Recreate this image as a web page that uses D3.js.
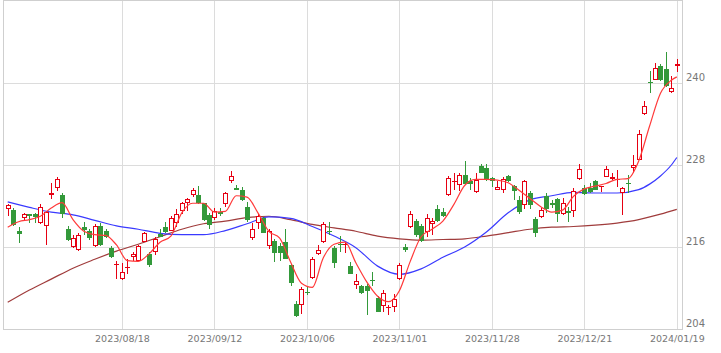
<!DOCTYPE html>
<html><head><meta charset="utf-8">
<script src="https://cdn.jsdelivr.net/npm/d3@7"></script>
<style>body{margin:0;background:#fff;overflow:hidden}</style>
</head><body><svg id="c" width="721" height="353"></svg>
<script>
// trading days
const dates = [
"2023/07/19","2023/07/20","2023/07/21","2023/07/24","2023/07/25","2023/07/26","2023/07/27","2023/07/28","2023/07/31",
"2023/08/01","2023/08/02","2023/08/03","2023/08/04","2023/08/07","2023/08/08","2023/08/09","2023/08/10","2023/08/14","2023/08/15","2023/08/16","2023/08/17","2023/08/18",
"2023/08/21","2023/08/22","2023/08/23","2023/08/24","2023/08/25","2023/08/28","2023/08/29","2023/08/30","2023/08/31",
"2023/09/01","2023/09/04","2023/09/05","2023/09/06","2023/09/07","2023/09/08","2023/09/11","2023/09/12","2023/09/13","2023/09/14","2023/09/15","2023/09/19","2023/09/20","2023/09/21","2023/09/22","2023/09/25","2023/09/26","2023/09/27","2023/09/28","2023/09/29",
"2023/10/02","2023/10/03","2023/10/04","2023/10/05","2023/10/06","2023/10/10","2023/10/11","2023/10/12","2023/10/13","2023/10/16","2023/10/17","2023/10/18","2023/10/19","2023/10/20","2023/10/23","2023/10/24","2023/10/25","2023/10/26","2023/10/27","2023/10/30","2023/10/31",
"2023/11/01","2023/11/02","2023/11/06","2023/11/07","2023/11/08","2023/11/09","2023/11/10","2023/11/13","2023/11/14","2023/11/15","2023/11/16","2023/11/17","2023/11/20","2023/11/21","2023/11/22","2023/11/24","2023/11/27","2023/11/28","2023/11/29","2023/11/30",
"2023/12/01","2023/12/04","2023/12/05","2023/12/06","2023/12/07","2023/12/08","2023/12/11","2023/12/12","2023/12/13","2023/12/14","2023/12/15","2023/12/18","2023/12/19","2023/12/20","2023/12/21","2023/12/22","2023/12/25","2023/12/26","2023/12/27","2023/12/28","2023/12/29",
"2024/01/04","2024/01/05","2024/01/09","2024/01/10","2024/01/11","2024/01/12","2024/01/15","2024/01/16","2024/01/17","2024/01/18","2024/01/19"];

const openV = [221.6,221.4,218.3,220.3,220.8,220.8,219.5,219.1,223.6,224.7,223.6,218.6,216.0,215.5,218.9,218.3,216.1,219.1,218.4,215.9,
213.4,211.3,213.0,214.6,214.0,216.8,215.0,215.3,217.9,218.9,218.4,219.5,221.3,222.4,223.6,223.6,222.4,220.7,220.2,221.1,
222.3,225.6,224.7,224.4,221.9,217.3,219.5,220.2,216.1,216.9,216.1,216.7,213.4,207.7,207.5,209.4,211.4,215.0,216.8,218.3,
215.9,216.4,216.3,213.2,210.4,210.3,210.3,211.2,208.6,207.3,207.1,207.2,211.3,216.0,219.0,219.8,219.1,218.2,219.3,221.6,
221.1,223.6,225.5,225.1,226.5,225.7,224.0,227.9,227.5,226.1,224.4,224.4,226.4,224.9,222.9,222.2,223.9,220.1,220.4,223.5,
222.5,223.0,220.9,221.3,221.2,225.9,224.6,224.6,225.6,224.8,226.3,225.9,225.8,223.9,225.4,227.5,228.8,235.4,240.2,240.5,
242.5,242.0,238.7,242.5];
const highV = [222.3,221.7,218.9,221.0,220.9,221.0,222.3,221.3,225.4,226.2,223.9,219.1,217.7,218.0,219.6,218.6,219.3,219.5,218.6,216.1,
213.9,213.6,214.2,215.3,216.3,218.2,215.3,217.5,218.7,219.7,220.5,221.6,222.6,223.1,224.7,224.9,222.5,221.0,221.7,221.7,
224.0,227.1,225.1,224.8,222.6,219.5,220.9,220.4,218.6,217.2,216.6,218.6,213.5,208.1,210.1,210.1,214.6,216.3,219.6,219.7,
216.1,217.6,216.8,213.8,212.1,210.4,210.6,212.4,208.9,209.7,207.5,209.1,213.6,216.5,221.2,220.1,219.4,220.9,220.2,222.1,
221.7,226.4,226.9,226.9,228.6,226.1,226.8,228.1,228.1,226.3,225.6,226.3,226.5,225.1,223.4,225.8,224.2,220.4,221.7,223.9,
222.9,223.2,223.1,221.9,224.6,228.2,225.1,225.3,225.8,224.9,227.9,226.8,227.2,224.8,226.5,229.5,233.1,237.3,241.8,243.0,
242.8,244.6,241.0,243.5];
const lowV = [220.5,219.1,216.6,219.9,219.5,219.5,219.3,216.3,223.0,224.2,220.2,216.9,215.9,215.4,217.8,217.0,216.0,216.1,217.3,214.4,
211.3,211.2,212.0,214.0,213.9,216.7,213.1,214.8,217.4,218.0,218.3,219.0,220.8,221.2,223.3,222.3,219.8,218.6,220.0,220.5,
221.9,225.4,224.3,222.7,219.6,217.0,218.7,218.0,215.7,213.8,214.0,214.2,210.3,205.8,206.2,209.0,211.3,214.8,216.6,217.8,
213.0,215.3,215.1,212.0,209.9,209.1,206.1,210.3,206.5,206.5,206.1,206.5,211.2,215.2,218.8,217.5,216.7,217.4,217.8,219.7,
220.4,223.4,224.3,224.2,225.1,224.3,223.9,226.8,225.6,224.8,224.3,223.9,225.5,222.9,220.8,221.6,221.6,217.4,220.3,221.0,
221.7,219.6,220.7,219.7,220.4,225.8,223.6,223.9,224.3,224.0,226.2,225.8,224.8,220.7,223.9,226.8,228.7,235.3,238.6,240.4,
240.3,239.4,238.6,241.6];
const closeV = [222.1,219.2,217.9,220.8,220.6,220.4,221.9,221.1,223.9,225.9,220.8,217.0,217.3,217.7,218.5,217.3,219.1,216.3,217.5,214.5,
213.5,212.3,213.1,215.0,216.1,218.1,213.4,217.2,217.5,218.2,220.2,220.8,222.4,223.0,224.4,222.4,220.0,219.2,221.2,220.9,
223.9,226.4,224.4,222.9,219.9,218.7,220.6,218.1,218.4,215.1,215.1,214.3,210.8,205.9,209.8,209.3,214.3,215.6,219.4,218.2,
213.7,216.3,216.4,212.1,211.0,209.2,209.6,211.1,206.5,209.2,207.2,208.4,213.4,215.6,220.8,217.8,216.9,220.3,219.8,219.8,
220.6,226.1,225.6,226.6,225.2,225.2,225.8,226.9,225.8,225.6,224.8,226.0,225.6,224.2,221.1,225.7,222.1,218.0,221.4,221.6,
222.2,220.9,222.5,221.0,224.2,227.4,223.8,224.1,224.4,224.9,227.4,226.3,225.9,224.7,225.3,228.0,232.5,236.6,240.1,242.2,
240.4,239.6,239.3,242.8];

// moving averages: [trading-day index, value]
const maShort = [[0,218.9],[2,219.7],[4,220.0],[6,220.5],[8,221.7],[10,222.5],[12,220.0],[14,218.3],[16,217.8],[18,217.7],
[20,216.3],[22,214.0],[24,213.9],[26,215.0],[28,216.7],[30,217.6],[32,221.0],[34,222.4],[36,222.4],[38,221.1],[40,221.2],
[42,223.5],[44,223.3],[46,221.0],[48,218.3],[50,217.3],[52,213.8],[54,210.7],[56,210.1],[58,214.4],[60,216.4],[62,216.7],
[64,213.7],[66,210.9],[68,208.8],[70,208.0],[72,209.6],[74,213.9],[76,217.5],[78,218.6],[80,219.8],[82,222.2],[84,225.0],
[86,225.9],[88,225.9],[90,225.8],[92,225.4],[94,224.3],[96,223.1],[98,221.9],[100,221.1],[102,221.4],[104,223.4],[106,224.5],
[108,224.9],[110,225.3],[112,225.9],[114,226.0],[116,228.6],[118,233.7],[120,238.5],[122,240.4],[123,240.9]];
const maMid = [[0,222.6],[4,221.8],[8,221.1],[12,220.7],[16,219.9],[20,219.1],[24,218.6],[28,218.0],[32,217.8],[36,217.8],
[40,218.4],[44,219.4],[48,220.4],[52,220.2],[56,219.0],[60,217.6],[64,215.9],[68,213.2],[72,212.0],[76,212.8],[80,214.5],
[84,216.0],[88,218.2],[92,221.0],[96,222.9],[100,223.5],[104,224.0],[108,223.9],[112,223.9],[116,224.4],[118,225.2],
[120,226.4],[122,228.0],[123,229.1]];
const maLong = [[0,207.9],[4,209.7],[8,211.3],[12,212.9],[16,214.2],[20,215.4],[24,216.4],[28,217.5],[32,218.6],[36,219.4],
[40,219.8],[44,220.3],[48,220.5],[52,220.0],[56,219.3],[60,218.8],[64,218.3],[68,217.6],[72,217.2],[76,217.0],[80,217.1],
[84,217.2],[88,217.6],[92,218.1],[96,218.6],[100,218.9],[104,219.0],[108,219.2],[112,219.5],[116,220.0],[120,220.8],[123,221.5]];

const yTicks = [204, 216, 228, 240];
const xTicks = ["2023/08/18","2023/09/12","2023/10/06","2023/11/01","2023/11/28","2023/12/21","2024/01/19"];

const svg = d3.select("#c");
const plotL = 3, plotR = 682, plotT = 1, plotB = 329;
const x = d3.scalePoint().domain(dates).range([7.7, 676.8]);
const y = d3.scaleLinear().domain([204, 252]).range([plotB, plotT]);
const crisp = v => Math.round(v) + 0.5;

// grid
const g = svg.append("g");
g.selectAll("line.h").data(yTicks.filter(t => t > 204)).join("line")
  .attr("x1", plotL).attr("x2", plotR)
  .attr("y1", d => crisp(y(d))).attr("y2", d => crisp(y(d)))
  .attr("stroke", "#dcdcdc").attr("stroke-width", 1);
g.selectAll("line.v").data(xTicks).join("line")
  .attr("y1", plotT).attr("y2", plotB)
  .attr("x1", d => crisp(x(d))).attr("x2", d => crisp(x(d)))
  .attr("stroke", "#dcdcdc").attr("stroke-width", 1);

// frame
svg.append("rect").attr("x", plotL + 0.5).attr("y", plotT - 0.5)
  .attr("width", plotR - plotL).attr("height", plotB - plotT + 1)
  .attr("fill", "none").attr("stroke", "#cfcfcf");

// axes
const yAxis = svg.append("g").attr("transform", `translate(${plotR},0)`)
  .call(d3.axisRight(y).tickValues(yTicks).tickSize(0).tickPadding(4));
yAxis.select(".domain").remove();
yAxis.selectAll("text").attr("dy", "-3").attr("fill", "#777")
  .style("font-family", "'DejaVu Sans', sans-serif").style("font-size", "10px");

const xAxis = svg.append("g").attr("transform", `translate(0,${plotB})`)
  .call(d3.axisBottom(x).tickValues(xTicks).tickSize(0).tickPadding(6));
xAxis.select(".domain").remove();
xAxis.selectAll("text").attr("fill", "#777")
  .style("font-family", "'DejaVu Sans', sans-serif").style("font-size", "9.5px");

// moving averages
const line = d3.line().x(d => x(dates[d[0]])).y(d => y(d[1])).curve(d3.curveMonotoneX);
svg.append("path").attr("d", line(maLong)).attr("fill", "none").attr("stroke", "#a03c3c").attr("stroke-width", 1.2);
svg.append("path").attr("d", line(maMid)).attr("fill", "none").attr("stroke", "#3a3aff").attr("stroke-width", 1.2);

// candles
const RED = "#e60012", GREEN = "#33993a";
const cg = svg.append("g");
dates.forEach((d, i) => {
  const px = Math.round(x(d));
  const o = openV[i], c = closeV[i], h = highV[i], l = lowV[i];
  const up = c >= o;
  const col = up ? RED : GREEN;
  cg.append("line").attr("x1", px + 0.5).attr("x2", px + 0.5)
    .attr("y1", Math.round(y(h))).attr("y2", Math.round(y(l)))
    .attr("stroke", col).attr("stroke-width", 1);
  const yt = Math.round(y(Math.max(o, c))), yb = Math.round(y(Math.min(o, c)));
  if (yb - yt < 2) {
    cg.append("rect").attr("x", px - 2).attr("y", yt).attr("width", 5).attr("height", Math.max(1, yb - yt))
      .attr("fill", col);
  } else if (up) {
    cg.append("rect").attr("x", px - 1.5).attr("y", yt + 0.5).attr("width", 4).attr("height", yb - yt - 1)
      .attr("fill", "#fff").attr("stroke", col).attr("stroke-width", 1);
  } else {
    cg.append("rect").attr("x", px - 2).attr("y", yt).attr("width", 5).attr("height", yb - yt)
      .attr("fill", col);
  }
});

svg.append("path").attr("d", line(maShort)).attr("fill", "none").attr("stroke", "#ff3a3a").attr("stroke-width", 1.2);
</script></body></html>
